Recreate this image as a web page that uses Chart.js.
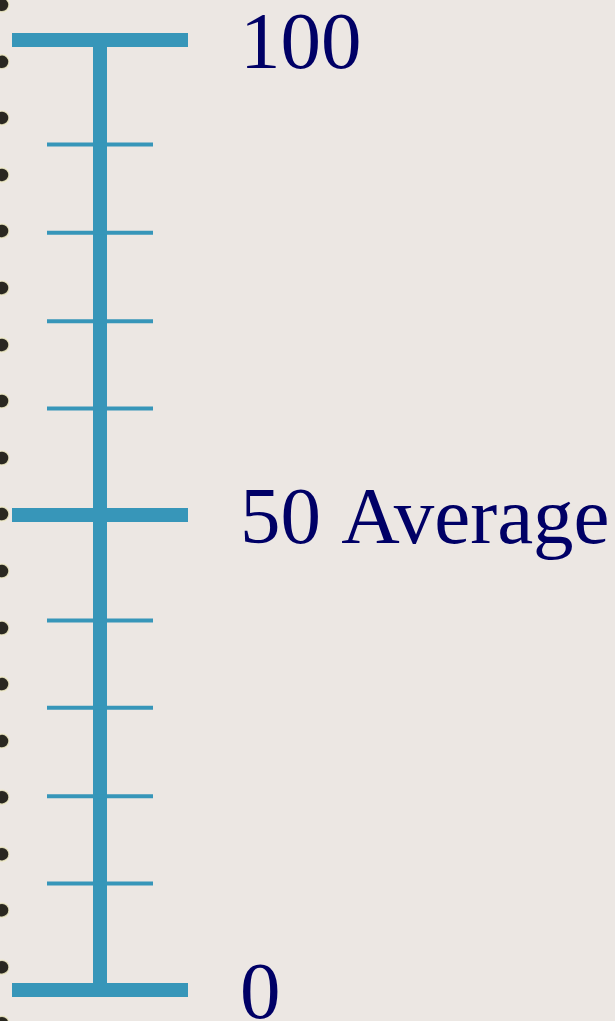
<!DOCTYPE html>
<html>
<head>
<meta charset="utf-8">
<script src="https://cdn.jsdelivr.net/npm/chart.js@4.4.1/dist/chart.umd.min.js"></script>
<style>
  html, body { margin: 0; padding: 0; background: #ece7e3; }
  #ruler { display: block; }
</style>
</head>
<body>
<canvas id="ruler" width="615" height="1021"></canvas>
<script>
const rulerRange = [0, 100];
const majorTicks = [0, 50, 100];
const majorLabels = ["0", "50 Average", "100"];
const minorTicks = [11.2, 20.4, 29.7, 38.9, 61.2, 70.4, 79.7, 89];
const bindingHoles = [103.7, 97.7, 91.8, 85.8, 79.9, 73.9, 67.9, 62.0, 56.0, 50.1,
  44.1, 38.1, 32.2, 26.2, 20.3, 14.3, 8.4, 2.4, -3.5];

const blue = "#3796b9";
const navy = "#000066";

// x axis is in pixels measured from the ruler's centre line
const majorHalf = 88;
const minorHalf = 53;
const labelX = 140;
const holeX = -98;

function tickLine(value, half, width) {
  return {
    type: "line",
    data: [{ x: -half, y: value }, { x: half, y: value }],
    borderColor: blue,
    borderWidth: width,
    borderCapStyle: "butt",
    pointRadius: 0,
    order: 1
  };
}

const datasets = [];

datasets.push({
  type: "scatter",
  data: bindingHoles.map((v) => ({ x: holeX, y: v })),
  pointRadius: 7,
  pointBackgroundColor: "#2a2820",
  pointBorderColor: "rgba(240,235,200,0.85)",
  pointBorderWidth: 1.5,
  order: 3
});

datasets.push({
  type: "line",
  data: rulerRange.map((v) => ({ x: 0, y: v })),
  borderColor: blue,
  borderWidth: 14,
  borderCapStyle: "butt",
  pointRadius: 0,
  order: 2
});

minorTicks.forEach((v) => datasets.push(tickLine(v, minorHalf, 4)));
majorTicks.forEach((v) => datasets.push(tickLine(v, majorHalf, 14)));

const labelPlugin = {
  id: "rulerLabels",
  afterDatasetsDraw(chart) {
    const ctx = chart.ctx;
    const xs = chart.scales.x;
    const ys = chart.scales.y;
    ctx.save();
    ctx.font = "81px 'Liberation Serif', 'Times New Roman', serif";
    ctx.fillStyle = navy;
    ctx.textAlign = "left";
    ctx.textBaseline = "alphabetic";
    majorTicks.forEach((v, i) => {
      ctx.fillText(majorLabels[i], xs.getPixelForValue(labelX), ys.getPixelForValue(v) + 28);
    });
    ctx.restore();
  }
};

new Chart(document.getElementById("ruler"), {
  data: { datasets: datasets },
  options: {
    responsive: false,
    animation: false,
    layout: { padding: 0, autoPadding: false },
    plugins: {
      legend: { display: false },
      tooltip: { enabled: false }
    },
    scales: {
      x: { type: "linear", display: false, min: -100, max: 515 },
      y: { type: "linear", display: false, min: -31 / 9.5, max: 100 + 40 / 9.5 }
    }
  },
  plugins: [labelPlugin]
});
</script>
</body>
</html>
